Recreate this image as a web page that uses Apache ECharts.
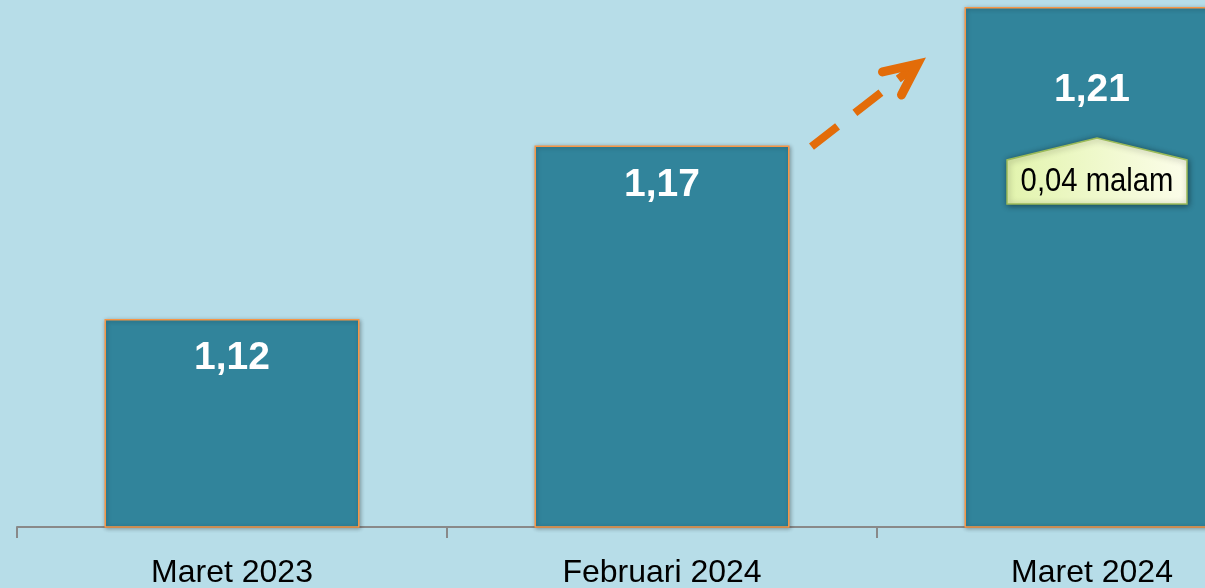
<!DOCTYPE html>
<html>
<head>
<meta charset="utf-8">
<script src="https://cdn.jsdelivr.net/npm/echarts@6/dist/echarts.min.js"></script>
<style>
html,body{margin:0;padding:0;background:#b7dde8;}
#main{width:1205px;height:588px;}
</style>
</head>
<body>
<div id="main"></div>
<script>
const categories = ['Maret 2023', 'Februari 2024', 'Maret 2024'];
const values = [1.12, 1.17, 1.21];
const changeLabel = '0,04 malam';

const FONT = '"Liberation Sans Narrow", "Arial Narrow", "Liberation Sans", Arial, sans-serif';

const chart = echarts.init(document.getElementById('main'));
chart.setOption({
  backgroundColor: '#b7dde8',
  animation: false,
  grid: { left: 17, top: 0, width: 1290, height: 527, outerBoundsMode: 'none', containLabel: false },
  xAxis: {
    type: 'category',
    data: categories,
    axisLine: { lineStyle: { color: '#898989', width: 2 } },
    axisTick: { show: true, length: 11, lineStyle: { color: '#898989', width: 2 } },
    axisLabel: { color: '#000', fontFamily: FONT, fontSize: 32, margin: 30 }
  },
  yAxis: {
    type: 'value', min: 1.06, max: 1.212, show: false,
    splitLine: { show: false }
  },
  series: [{
    type: 'bar',
    barWidth: 255,
    data: values.map((v, i) => i === 2 ? { value: v, label: { distance: 64 } } : v),
    itemStyle: {
      color: '#31849b', borderColor: '#f79646', borderWidth: 1.5,
      shadowBlur: 4, shadowColor: 'rgba(0,0,0,0.3)', shadowOffsetX: 1, shadowOffsetY: 1
    },
    label: {
      show: true, position: 'insideTop', distance: 20,
      color: '#fff', fontWeight: 'bold', fontFamily: FONT, fontSize: 39,
      formatter: p => p.value.toFixed(2).replace('.', ',')
    }
  }]
});

function drawDecor() {
  const p2 = chart.convertToPixel({ gridIndex: 0 }, [1, values[1]]);
  const p3 = chart.convertToPixel({ gridIndex: 0 }, [2, values[2]]);
  const half = 127.5;
  const sx = p2[0] + half + 22, sy = p2[1] + 1;
  const tx = p3[0] - half - 47, ty = p3[1] + 57;
  const cx = p3[0] + 5, py = p3[1] + 131;
  chart.setOption({
    graphic: [
      {
        type: 'line', z: 100,
        shape: { x1: sx, y1: sy, x2: tx - 5, y2: ty + 4 },
        style: { stroke: '#e36c09', lineWidth: 8, lineDash: [33, 22], lineCap: 'butt' }
      },
      {
        type: 'polyline', z: 100,
        shape: { points: [[tx - 35, ty + 8], [tx, ty], [tx - 16, ty + 31]] },
        style: { stroke: '#e36c09', lineWidth: 9, lineCap: 'round', lineJoin: 'miter' }
      },
      {
        type: 'polygon', z: 100,
        shape: { points: [[cx - 90, py + 66], [cx - 90, py + 22], [cx, py], [cx + 90, py + 22], [cx + 90, py + 66]] },
        style: {
          fill: {
            type: 'linear', x: 0, y: 0, x2: 1, y2: 0,
            colorStops: [{ offset: 0, color: '#e2f4ad' }, { offset: 1, color: '#fcfdea' }]
          },
          stroke: '#9bbb59', lineWidth: 1.5,
          shadowBlur: 6, shadowColor: 'rgba(0,0,0,0.45)', shadowOffsetX: 1, shadowOffsetY: 1
        }
      },
      {
        type: 'text', z: 101,
        x: cx, y: py + 44,
        scaleX: 0.86,
        style: {
          text: changeLabel, fill: '#000', fontSize: 34, fontFamily: FONT,
          align: 'center', verticalAlign: 'middle'
        }
      }
    ]
  });
}
drawDecor();
</script>
</body>
</html>
